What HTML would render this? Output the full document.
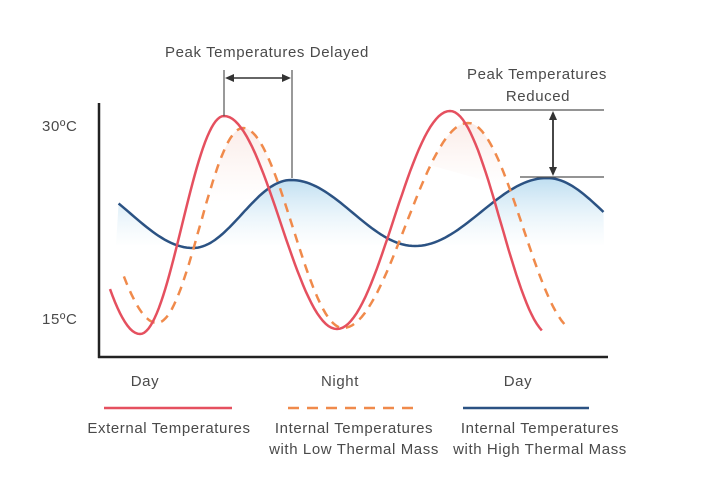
<!DOCTYPE html>
<html><head><meta charset="utf-8"><style>
html,body{margin:0;padding:0;background:#fff;}
svg{display:block;font-family:"Liberation Sans",sans-serif;}
text{fill:#4a4a4a;font-size:15px;letter-spacing:0.6px;}
</style></head><body>
<svg id="s" width="703" height="487" viewBox="0 0 703 487" xmlns="http://www.w3.org/2000/svg">
<defs>
<linearGradient id="bg" x1="0" y1="0" x2="0" y2="1">
<stop offset="0" stop-color="#a9d3ec" stop-opacity="0.75"/>
<stop offset="1" stop-color="#d8ecf7" stop-opacity="0"/>
</linearGradient>
<linearGradient id="rg" x1="0" y1="0" x2="0" y2="1">
<stop offset="0" stop-color="#f8e0da" stop-opacity="0.6"/>
<stop offset="1" stop-color="#fbe9e4" stop-opacity="0"/>
</linearGradient>
</defs>
<g id="fills"></g>
<g id="curves"></g>
<line x1="99" y1="103" x2="99" y2="358" stroke="#222" stroke-width="2.5"/>
<line x1="98" y1="357" x2="608" y2="357" stroke="#222" stroke-width="2.5"/>
<line x1="224" y1="70" x2="224" y2="116" stroke="#555" stroke-width="1.2"/>
<line x1="292" y1="70" x2="292" y2="178" stroke="#555" stroke-width="1.2"/>
<line x1="232" y1="78" x2="284" y2="78" stroke="#333" stroke-width="1.6"/>
<polygon points="225,78 234,74 234,82" fill="#333"/>
<polygon points="291,78 282,74 282,82" fill="#333"/>
<text x="267" y="57" text-anchor="middle">Peak Temperatures Delayed</text>
<line x1="460" y1="110" x2="604" y2="110" stroke="#555" stroke-width="1.2"/>
<line x1="520" y1="177" x2="604" y2="177" stroke="#555" stroke-width="1.2"/>
<line x1="553" y1="118" x2="553" y2="169" stroke="#333" stroke-width="1.8"/>
<polygon points="553,111 549,120 557,120" fill="#333"/>
<polygon points="553,176 549,167 557,167" fill="#333"/>
<text x="537" y="79" text-anchor="middle">Peak Temperatures</text>
<text x="538" y="101" text-anchor="middle">Reduced</text>
<text x="42" y="131">30ºC</text>
<text x="42" y="324">15ºC</text>
<text x="145" y="386" text-anchor="middle">Day</text>
<text x="340" y="386" text-anchor="middle">Night</text>
<text x="518" y="386" text-anchor="middle">Day</text>
<line x1="104" y1="408" x2="232" y2="408" stroke="#e5505f" stroke-width="2.5"/>
<line x1="288" y1="408" x2="414" y2="408" stroke="#f08a4b" stroke-width="2.5" stroke-dasharray="11,8"/>
<line x1="463" y1="408" x2="589" y2="408" stroke="#2b5283" stroke-width="2.5"/>
<text x="169" y="433" text-anchor="middle">External Temperatures</text>
<text x="354" y="433" text-anchor="middle">Internal Temperatures</text>
<text x="354" y="454" text-anchor="middle">with Low Thermal Mass</text>
<text x="540" y="433" text-anchor="middle">Internal Temperatures</text>
<text x="540" y="454" text-anchor="middle">with High Thermal Mass</text>
</svg>
<script>
function gen(ext){
  var pts=[];
  for(var i=0;i<ext.length-1;i++){
    var a=ext[i],b=ext[i+1],n=40;
    for(var k=(i==0?0:1);k<=n;k++){
      var t=k/n, x=a[0]+(b[0]-a[0])*t;
      var y=a[1]+(b[1]-a[1])*(1-Math.cos(Math.PI*t))/2;
      pts.push([x,y]);
    }
  }
  return pts;
}
function toPath(p){return "M"+p.map(function(q){return q[0].toFixed(1)+","+q[1].toFixed(1)}).join(" L");}
var redP=gen([[40,116],[140,334],[224,116],[337,329],[450,111],[552,336]]).filter(function(q){return q[0]>=108&&q[0]<=544});
var oraP=gen([[55,128],[157,323],[243,128],[343,328],[468,123],[578,332]]).filter(function(q){return q[0]>=122&&q[0]<=565});
var bluP=gen([[69,180],[193,248],[291,180],[415,246],[547,178],[660,246]]).filter(function(q){return q[0]>=116&&q[0]<=604});
var NS="http://www.w3.org/2000/svg";
function add(g,d,attrs){var e=document.createElementNS(NS,"path");e.setAttribute("d",d);for(var k in attrs)e.setAttribute(k,attrs[k]);document.getElementById(g).appendChild(e);}
add("fills",toPath(bluP)+" L604,245 L116,245 Z",{fill:"url(#bg)"});
add("fills",toPath(oraP.filter(function(q){return q[0]>=205&&q[0]<=285}))+" Z",{fill:"url(#rg)"});
add("fills",toPath(oraP.filter(function(q){return q[0]>=430&&q[0]<=510}))+" Z",{fill:"url(#rg)"});
add("curves",toPath(bluP),{fill:"none",stroke:"#2b5283","stroke-width":"2.5"});
add("curves",toPath(oraP),{fill:"none",stroke:"#f08a4b","stroke-width":"2.5","stroke-dasharray":"9,7"});
add("curves",toPath(redP),{fill:"none",stroke:"#e5505f","stroke-width":"2.5"});
</script>
</body></html>
